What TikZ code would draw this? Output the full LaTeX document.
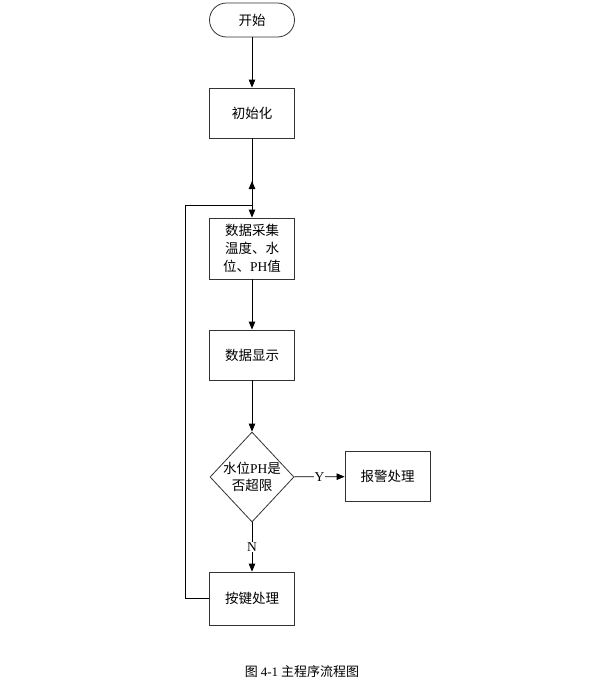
\documentclass[tikz,border=0pt]{standalone}
\usepackage{fontspec}
\setmainfont{Liberation Serif}
\newfontfamily\cjk{Noto Sans CJK SC}
\usetikzlibrary{shapes.geometric,arrows.meta}
\tikzset{
  box/.style = {draw = black!80, line width = .8pt, minimum width = 85pt, minimum height = 50pt, align = center, inner sep = 2pt},
  terminal/.style = {box, minimum height = 34pt, rounded corners = 17pt},
  decision/.style = {draw = black!80, line width = .8pt, shape = diamond, minimum width = 84pt, minimum height = 90pt, inner sep = 0pt},
}
\begin{document}
\begin{tikzpicture}[x = 1pt, y = -1pt, line width = .8pt,
  >={Triangle[length = 8pt, width = 6.5pt]},
  every node/.style = {font = \cjk\fontsize{13.5}{18}\selectfont}]
\useasboundingbox (0,0) rectangle (598,691);
\node (start) [terminal] at (252,20) {开始};
\node (init) [box] at (252,113) {初始化};
\node (collect) [box, minimum height = 61pt] at (252,248.5) {数据采集\\温度、水\\位、{\rmfamily PH}值};
\node (show) [box] at (252,355) {数据显示};
\node (check) [decision, label = {[align = center, font = \cjk\fontsize{13.5}{17}\selectfont]center:水位{\rmfamily PH}是\\否超限}] at (252,477) {};
\node (alarm) [box] at (387.5,476.5) {报警处理};
\node (key) [box, minimum height = 53pt] at (252,598.5) {按键处理};
\coordinate (join) at (252,205);
\coordinate (up) at (252,181);
\coordinate (left) at (185,205);
\draw [->] (start) -- (init);
\draw (init) -- (join);
\draw [->] (join) -- (up);
\draw [->] (join) -- (collect);
\draw [->] (collect) -- (show);
\draw [->] (show) -- (check);
\draw [->] (check) -- node [fill = white, inner sep = 1pt, font = \rmfamily\fontsize{13.5}{15}\selectfont] {Y} (alarm);
\draw [->] (check) -- node [fill = white, inner sep = 1pt, font = \rmfamily\fontsize{13.5}{15}\selectfont] {N} (key);
\draw (key.west) -| (left) -- (join);
\node (caption) [font = \cjk\fontsize{13}{15}\selectfont] at (302,672) {图 {\rmfamily 4-1} 主程序流程图};
\end{tikzpicture}
\end{document}
